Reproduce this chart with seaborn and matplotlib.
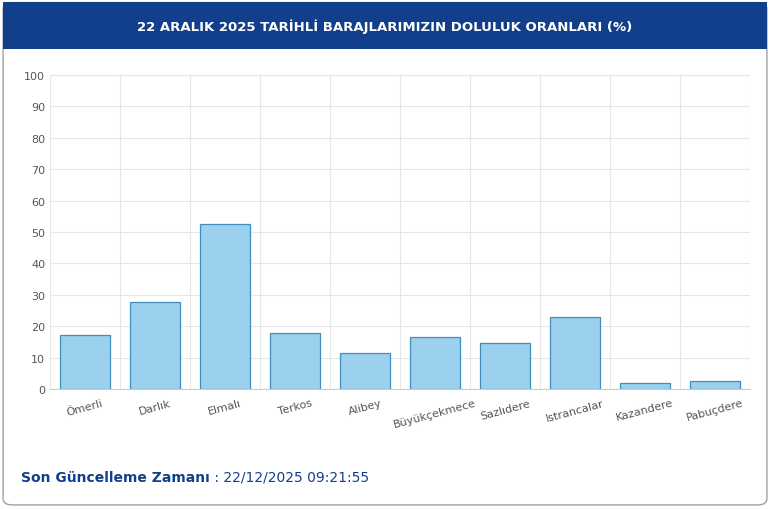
import matplotlib.pyplot as plt
import seaborn as sns
import pandas as pd
from matplotlib.patches import FancyBboxPatch, Rectangle

# data
dams = ["Ömerli", "Darlık", "Elmalı", "Terkos", "Alibey", "Büyükçekmece",
        "Sazlıdere", "Istrancalar", "Kazandere", "Pabuçdere"]
fill_rates = [17.2, 27.6, 52.7, 17.8, 11.6, 16.5, 14.8, 23.0, 2.1, 2.6]
title = "22 ARALIK 2025 TARİHLİ BARAJLARIMIZIN DOLULUK ORANLARI (%)"

df = pd.DataFrame({"dam": dams, "rate": fill_rates})

sns.set_style("white")
plt.rcParams["font.family"] = ["DejaVu Sans"]

fig = plt.figure(figsize=(7.7, 5.1), dpi=100)

# outer card border and header band
fig.patches.append(FancyBboxPatch((0.004, 0.008), 0.992, 0.985, boxstyle="round,pad=0,rounding_size=0.012",
                                  transform=fig.transFigure, fill=False, edgecolor="#9aa3ad", lw=1.0))
fig.patches.append(Rectangle((0.004, 0.902), 0.992, 0.092, transform=fig.transFigure,
                             facecolor="#123f8c", edgecolor="none"))
fig.text(0.5, 0.948, title, color="white", fontsize=9.5, fontweight="bold", ha="center", va="center")

ax = fig.add_axes([0.065, 0.235, 0.909, 0.616])
sns.barplot(data=df, x="dam", y="rate", ax=ax, color="#9bd0ee", edgecolor="#3f8fba",
            linewidth=0.9, width=0.72, saturation=1)

ax.set_ylim(0, 100)
ax.set_yticks(range(0, 101, 10))
ax.set_xlim(-0.5, len(dams) - 0.5)
ax.set_xlabel("")
ax.set_ylabel("")
ax.grid(True, axis="both", color="#e6e6e6", lw=0.8)
ax.set_axisbelow(True)
ax.set_xticks([i - 0.5 for i in range(len(dams) + 1)], minor=True)
ax.xaxis.grid(False, which="major")
ax.xaxis.grid(True, which="minor", color="#e6e6e6", lw=0.8)
for s in ["top", "right", "left"]:
    ax.spines[s].set_visible(False)
ax.spines["bottom"].set_color("#cccccc")
ax.tick_params(axis="y", labelsize=8, colors="#555555", length=0)
ax.tick_params(axis="x", labelsize=8, colors="#555555", length=0, pad=6, which="major")
ax.tick_params(axis="x", which="minor", length=5, color="#cccccc")
for lbl in ax.get_xticklabels():
    lbl.set_rotation(15)
    lbl.set_ha("center")

# footer: bold label followed by the timestamp
label = fig.text(0.027, 0.063, "Son Güncelleme Zamanı", color="#123f8c", fontsize=10,
                 fontweight="bold", va="center")
ax.annotate(" : 22/12/2025 09:21:55", xy=(1, 0.5), xycoords=label, color="#123f8c",
            fontsize=10, va="center", ha="left", annotation_clip=False)

fig.savefig("out.png", dpi=100)
